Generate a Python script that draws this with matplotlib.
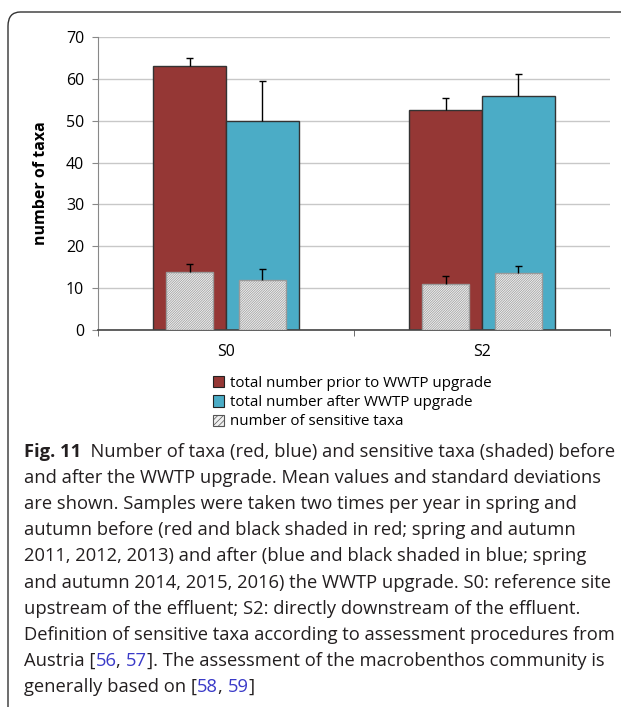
import matplotlib
matplotlib.use("Agg")
import matplotlib.pyplot as plt
from matplotlib.patches import Patch, FancyBboxPatch

# Data
sites = ["S0", "S2"]
total_prior = [63.0, 52.5]
total_prior_sd = [2.0, 3.0]
total_after = [50.0, 55.8]
total_after_sd = [9.5, 5.4]
sens_prior = [13.8, 11.1]
sens_prior_sd = [2.0, 1.7]
sens_after = [12.0, 13.6]
sens_after_sd = [2.5, 1.8]
yticks = [0, 10, 20, 30, 40, 50, 60, 70]
legend_labels = ["total number prior to WWTP upgrade",
                 "total number after WWTP upgrade",
                 "number of sensitive taxa"]

RED = "#953735"
BLUE = "#4bacc6"
HATCH_FACE = "#f0f0f0"
HATCH_EDGE = "#9a9a9a"
CHART_FONT = "Open Sans"

plt.rcParams["hatch.linewidth"] = 0.5
plt.rcParams["hatch.color"] = HATCH_EDGE

fig = plt.figure(figsize=(6.21, 7.07), dpi=100)

# frame around figure and caption
frame = FancyBboxPatch((8 / 621, -0.05), 1.2, 1 - 12 / 707 + 0.05,
                       boxstyle="round,pad=0,rounding_size=0.02",
                       transform=fig.transFigure, fill=False,
                       edgecolor="#333333", linewidth=1.0, clip_on=False)
fig.patches.append(frame)

ax = fig.add_axes([98 / 621, 1 - 330 / 707, (610 - 98) / 621, (330 - 37) / 707])

x = list(range(len(sites)))
bw = 0.285
hw = 0.184
cap = 0.012
xp = [v - bw / 2 for v in x]
xa = [v + bw / 2 for v in x]


def upper_err(xs, ys, errs, z):
    tops = [y + e for y, e in zip(ys, errs)]
    ax.vlines(xs, ys, tops, colors="black", linewidth=1.0, zorder=z)
    ax.hlines(tops, [v - cap for v in xs], [v + cap for v in xs],
              colors="black", linewidth=1.0, zorder=z)


ax.bar(xp, total_prior, width=bw, color=RED, edgecolor="#333333", linewidth=1.0, zorder=2)
ax.bar(xa, total_after, width=bw, color=BLUE, edgecolor="#333333", linewidth=1.0, zorder=2)
upper_err(xp, total_prior, total_prior_sd, 3)
upper_err(xa, total_after, total_after_sd, 3)

ax.bar(xp, sens_prior, width=hw, color=HATCH_FACE, edgecolor=HATCH_EDGE,
       hatch="/" * 14, linewidth=1.0, zorder=4)
ax.bar(xa, sens_after, width=hw, color=HATCH_FACE, edgecolor=HATCH_EDGE,
       hatch="/" * 14, linewidth=1.0, zorder=4)
upper_err(xp, sens_prior, sens_prior_sd, 5)
upper_err(xa, sens_after, sens_after_sd, 5)

ax.set_xlim(-0.5, 1.5)
ax.set_ylim(0, 70)
ax.set_yticks(yticks)
ax.set_yticklabels([str(t) for t in yticks], fontfamily=CHART_FONT, fontsize=11.5)
ax.set_xticks(x)
ax.set_xticklabels(sites, fontfamily=CHART_FONT, fontsize=11.5)
ax.tick_params(axis="x", length=0, pad=10)
ax.set_xticks([-0.5, 0.5, 1.5], minor=True)
ax.tick_params(axis="x", which="minor", length=4, color="#555555", direction="out")
ax.tick_params(axis="y", length=4, color="#888888", pad=6)
ax.yaxis.grid(True, color="#c8c8c8", linewidth=1.0, zorder=0)
ax.set_axisbelow(True)
for s in ["top", "right"]:
    ax.spines[s].set_visible(False)
ax.spines["left"].set_color("#888888")
ax.spines["bottom"].set_color("#444444")
ax.spines["bottom"].set_linewidth(1.2)
ax.set_ylabel("number of taxa", fontfamily=CHART_FONT, fontsize=11.5,
              fontweight="bold", labelpad=12)

handles = [Patch(facecolor=RED, edgecolor="#222222", linewidth=0.8),
           Patch(facecolor=BLUE, edgecolor="#222222", linewidth=0.8),
           Patch(facecolor=HATCH_FACE, edgecolor="#555555", hatch="//////", linewidth=0.8)]
fig.legend(handles, legend_labels, loc="upper left",
           bbox_to_anchor=(213 / 621, 1 - 376 / 707),
           frameon=False, prop={"family": CHART_FONT, "size": 10.9},
           handlelength=0.75, handleheight=0.75, handletextpad=0.35,
           labelspacing=0.28, borderpad=0, borderaxespad=0)

# Caption
TXT = "#231f20"
LINK = "#3a3ac8"
CAP_FONT = "Open Sans"
CAP_SIZE = 13.2
lines = [
    [("Fig. 11", "b", TXT), ("  Number of taxa (red, blue) and sensitive taxa (shaded) before", "n", TXT)],
    [("and after the WWTP upgrade. Mean values and standard deviations", "n", TXT)],
    [("are shown. Samples were taken two times per year in spring and", "n", TXT)],
    [("autumn before (red and black shaded in red; spring and autumn", "n", TXT)],
    [("2011, 2012, 2013) and after (blue and black shaded in blue; spring", "n", TXT)],
    [("and autumn 2014, 2015, 2016) the WWTP upgrade. S0: reference site", "n", TXT)],
    [("upstream of the effluent; S2: directly downstream of the effluent.", "n", TXT)],
    [("Definition of sensitive taxa according to assessment procedures from", "n", TXT)],
    [("Austria [", "n", TXT), ("56", "n", LINK), (", ", "n", TXT), ("57", "n", LINK),
     ("]. The assessment of the macrobenthos community is", "n", TXT)],
    [("generally based on [", "n", TXT), ("58", "n", LINK), (", ", "n", TXT), ("59", "n", LINK),
     ("]", "n", TXT)],
]

renderer = fig.canvas.get_renderer()
y0 = 452
dy = 26.1
for i, runs in enumerate(lines):
    ypix = y0 + i * dy
    xpix = 24
    for s, w, c in runs:
        t = fig.text(xpix / 621, 1 - ypix / 707, s, fontfamily=CAP_FONT,
                     fontsize=CAP_SIZE, color=c, va="center", ha="left",
                     fontweight="bold" if w == "b" else "normal")
        bb = t.get_window_extent(renderer)
        xpix += bb.width

fig.savefig("out.png", dpi=100)
